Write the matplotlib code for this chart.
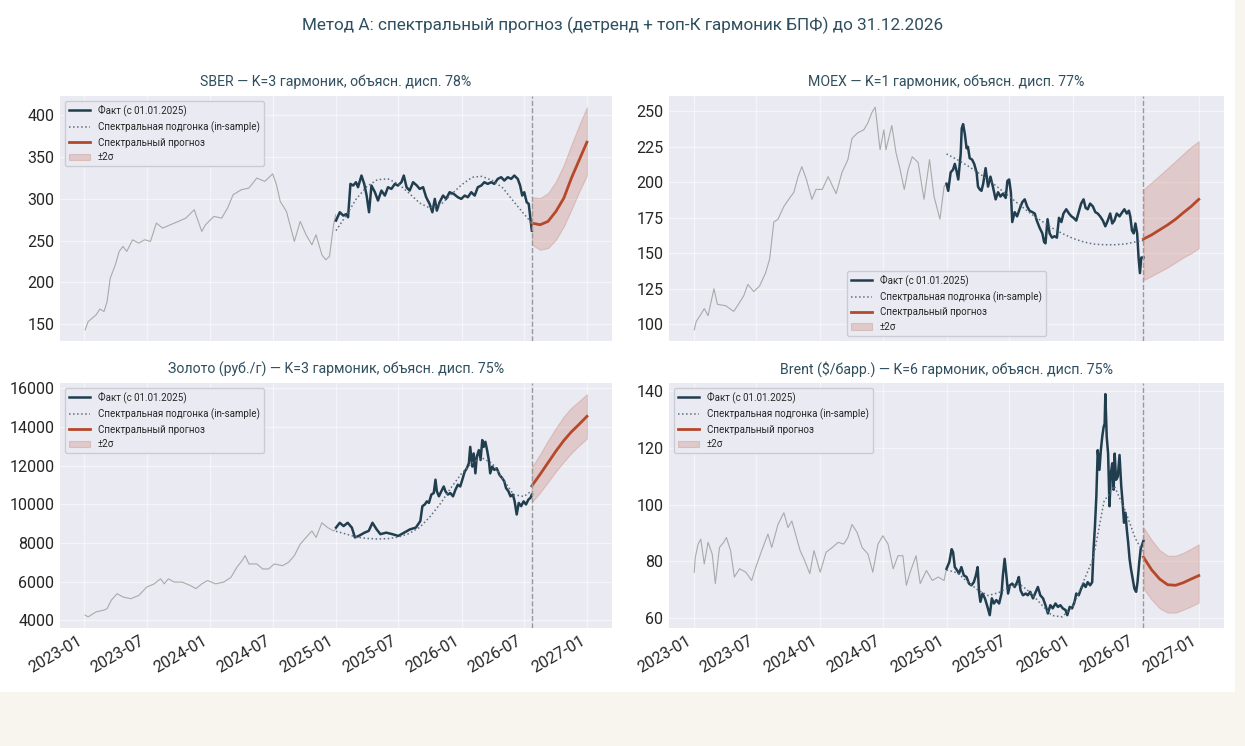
#!/usr/bin/env python3
"""
Spectral forecast chart: 2x2 panels (SBER, MOEX, gold, Brent)
history + fact since 2025 + in-sample spectral fit + forecast with ±2σ band
"""

import pandas as pd
import matplotlib
matplotlib.use("Agg")
import matplotlib.pyplot as plt
import matplotlib.dates as mdates
from matplotlib.patches import Rectangle

plt.rcParams['font.family'] = ['Roboto', 'DejaVu Sans']

# Fact / fit / forecast points are given as days since this origin
ORIGIN = '2023-01-01'
CUTOFF_DAY = 1300  # last fact day (24.07.2026)

# ---------------- SBER ----------------
sber_hist_dates = ['2023-01-03', '2023-01-12', '2023-02-04', '2023-02-15', '2023-02-27', '2023-03-08',
                   '2023-03-17', '2023-04-01', '2023-04-12', '2023-04-23', '2023-05-04', '2023-05-21',
                   '2023-06-08', '2023-06-25', '2023-07-12', '2023-07-29', '2023-08-16', '2023-09-08',
                   '2023-10-01', '2023-10-23', '2023-11-16', '2023-12-08', '2023-12-19', '2024-01-12',
                   '2024-02-04', '2024-02-21', '2024-03-08', '2024-04-01', '2024-04-23', '2024-05-16',
                   '2024-06-08', '2024-07-01', '2024-07-12', '2024-07-23', '2024-08-10', '2024-09-02',
                   '2024-09-19', '2024-10-06', '2024-10-23', '2024-11-04', '2024-11-21', '2024-12-02',
                   '2024-12-13', '2024-12-25', '2024-12-31']
sber_hist = [143, 153, 161, 168, 165, 177, 205, 221, 237, 243, 237, 251, 247, 251, 249, 271, 265, 269,
             273, 277, 287, 261, 269, 279, 277, 289, 305, 311, 313, 325, 321, 330, 317, 297, 285, 249,
             273, 257, 245, 257, 233, 227, 231, 269, 281]

sber_fact_day = [731, 742, 752, 762, 766, 773, 781, 789, 795, 805, 813, 820, 827, 834, 844, 853, 863,
                 873, 882, 892, 902, 911, 921, 928, 936, 945, 955, 966, 974, 984, 993, 1003, 1011,
                 1018, 1024, 1032, 1042, 1051, 1061, 1073, 1085, 1095, 1105, 1114, 1124, 1134, 1143,
                 1153, 1162, 1172, 1182, 1191, 1201, 1211, 1220, 1230, 1240, 1249, 1259, 1266, 1272,
                 1278, 1285, 1291, 1296, 1300]
sber_fact = [274, 284, 280, 282, 278, 318, 316, 320, 314, 328, 318, 304, 284, 316, 308, 298, 310, 304,
             314, 312, 318, 316, 320, 328, 314, 310, 320, 316, 312, 314, 302, 294, 284, 300, 286, 296,
             304, 300, 308, 306, 302, 300, 304, 302, 308, 304, 314, 316, 320, 318, 320, 318, 324, 326,
             322, 326, 324, 328, 324, 316, 304, 308, 296, 294, 276, 262]

# ---------------- MOEX ----------------
moex_hist_dates = ['2023-01-03', '2023-01-09', '2023-01-20', '2023-02-01', '2023-02-12', '2023-03-01',
                   '2023-03-11', '2023-04-04', '2023-04-27', '2023-05-08', '2023-05-26', '2023-06-07',
                   '2023-06-24', '2023-07-11', '2023-07-28', '2023-08-09', '2023-08-21', '2023-09-02',
                   '2023-09-19', '2023-10-06', '2023-10-18', '2023-10-30', '2023-11-10', '2023-11-22',
                   '2023-12-09', '2023-12-21', '2024-01-08', '2024-01-25', '2024-02-17', '2024-03-05',
                   '2024-03-22', '2024-04-03', '2024-04-20', '2024-05-07', '2024-05-19', '2024-05-30',
                   '2024-06-09', '2024-06-23', '2024-07-04', '2024-07-10', '2024-07-27', '2024-08-08',
                   '2024-08-20', '2024-09-01', '2024-09-12', '2024-09-24', '2024-10-11', '2024-10-28',
                   '2024-11-13', '2024-11-26', '2024-12-13', '2024-12-25', '2024-12-31']
moex_hist = [96, 102, 106, 111, 106, 125, 114, 113, 109, 113, 120, 128, 123, 127, 136, 146, 172, 174,
             183, 189, 193, 204, 211, 203, 188, 195, 195, 204, 192, 207, 216, 231, 235, 237, 242, 249,
             253, 223, 237, 223, 240, 221, 209, 195, 209, 218, 214, 188, 216, 190, 174, 197, 199]

moex_fact_day = [731, 736, 743, 750, 755, 760, 765, 772, 775, 779, 784, 789, 793, 798, 805, 811, 818,
                 822, 827, 832, 837, 844, 851, 858, 865, 873, 880, 887, 894, 902, 907, 912, 917, 921,
                 928, 935, 942, 950, 957, 964, 971, 979, 986, 992, 1000, 1008, 1013, 1017, 1023, 1029,
                 1036, 1043, 1050, 1056, 1063, 1069, 1077, 1085, 1092, 1098, 1106, 1113, 1120, 1127,
                 1133, 1139, 1146, 1154, 1161, 1168, 1175, 1183, 1190, 1197, 1204, 1210, 1216, 1223,
                 1231, 1239, 1245, 1252, 1258, 1262, 1267, 1272, 1277, 1282, 1286, 1290, 1294, 1300]
moex_fact = [199, 194, 207, 209, 213, 208, 202, 220, 238, 241, 234, 224, 225, 217, 216, 213, 207, 197,
             195, 194, 199, 210, 197, 204, 197, 188, 193, 190, 192, 189, 201, 202, 193, 172, 179, 176,
             181, 186, 188, 183, 180, 179, 178, 173, 168, 164, 158, 157, 174, 164, 161, 162, 161, 175,
             172, 178, 181, 178, 176, 175, 173, 179, 185, 188, 182, 181, 185, 183, 179, 178, 176, 173,
             169, 173, 178, 171, 173, 178, 176, 179, 181, 178, 180, 176, 166, 164, 171, 164, 147, 136,
             147, 147]

# ---------------- Gold ----------------
gold_hist_dates = ['2023-01-03', '2023-01-12', '2023-02-04', '2023-02-27', '2023-03-08', '2023-03-20',
                   '2023-04-06', '2023-04-23', '2023-05-16', '2023-06-08', '2023-07-01', '2023-07-23',
                   '2023-08-10', '2023-08-21', '2023-09-02', '2023-09-19', '2023-10-12', '2023-11-04',
                   '2023-11-21', '2023-12-08', '2023-12-25', '2024-01-17', '2024-02-10', '2024-03-02',
                   '2024-03-19', '2024-04-03', '2024-04-12', '2024-04-23', '2024-05-16', '2024-06-02',
                   '2024-06-19', '2024-07-06', '2024-07-29', '2024-08-16', '2024-09-02', '2024-09-19',
                   '2024-10-06', '2024-10-23', '2024-11-04', '2024-11-21', '2024-12-08', '2024-12-25',
                   '2024-12-31']
gold_hist = [4260, 4170, 4430, 4520, 4600, 5030, 5370, 5200, 5110, 5280, 5710, 5880, 6140, 5880, 6140,
             5970, 5970, 5800, 5630, 5880, 6050, 5880, 5970, 6220, 6740, 7080, 7340, 6910, 6910, 6650,
             6650, 6910, 6820, 6990, 7340, 7930, 8280, 8620, 8280, 9040, 8790, 8620, 8700]

gold_fact_day = [731, 742, 753, 765, 777, 786, 797, 814, 826, 837, 849, 860, 877, 895, 912, 929, 946,
                 963, 976, 982, 989, 995, 1001, 1008, 1015, 1020, 1024, 1030, 1037, 1044, 1049, 1056,
                 1063, 1071, 1078, 1085, 1092, 1098, 1105, 1111, 1117, 1121, 1127, 1131, 1136, 1140,
                 1146, 1151, 1156, 1160, 1165, 1170, 1175, 1179, 1185, 1191, 1198, 1206, 1214, 1220,
                 1225, 1232, 1238, 1245, 1250, 1256, 1262, 1269, 1276, 1283, 1290, 1296, 1300]
gold_fact = [8790, 9040, 8870, 9040, 8790, 8280, 8360, 8530, 8620, 9040, 8700, 8450, 8530, 8450, 8360,
             8530, 8700, 8790, 9130, 9900, 9990, 10150, 10070, 10500, 10580, 11270, 10670, 10410,
             10670, 10920, 10670, 10500, 10580, 10410, 10750, 11010, 10920, 11270, 11690, 11860,
             12120, 12970, 11950, 12630, 11600, 12460, 12800, 12290, 13320, 12970, 13230, 12800,
             12290, 11600, 11950, 11780, 11860, 11520, 11350, 11180, 10840, 10670, 10410, 10500,
             10150, 9470, 10070, 9900, 10150, 9990, 10240, 10330, 10500]

# ---------------- Brent ----------------
brent_hist_dates = ['2023-01-03', '2023-01-06', '2023-01-14', '2023-01-22', '2023-02-01', '2023-02-12',
                    '2023-02-24', '2023-03-05', '2023-03-17', '2023-03-29', '2023-04-06', '2023-04-18',
                    '2023-04-29', '2023-05-14', '2023-06-01', '2023-06-18', '2023-06-30', '2023-07-17',
                    '2023-08-04', '2023-08-15', '2023-09-02', '2023-09-19', '2023-10-01', '2023-10-12',
                    '2023-10-24', '2023-11-05', '2023-11-16', '2023-12-03', '2023-12-15', '2024-01-02',
                    '2024-01-19', '2024-02-06', '2024-02-23', '2024-03-10', '2024-03-22', '2024-04-03',
                    '2024-04-18', '2024-05-02', '2024-05-19', '2024-06-02', '2024-06-17', '2024-07-01',
                    '2024-07-16', '2024-07-31', '2024-08-14', '2024-08-28', '2024-09-07', '2024-09-18',
                    '2024-10-05', '2024-10-17', '2024-11-04', '2024-11-21', '2024-12-08', '2024-12-25',
                    '2024-12-31']
brent_hist = [76.2, 81.4, 86.0, 87.8, 79.1, 86.7, 82.6, 72.2, 84.9, 86.7, 88.4, 83.8, 74.5, 77.4, 76.2,
              73.3, 78.0, 83.8, 89.6, 84.9, 93.0, 97.1, 91.9, 94.2, 89.0, 83.8, 80.9, 75.7, 83.8, 76.2,
              83.2, 84.9, 86.7, 86.1, 88.4, 93.0, 90.1, 84.9, 82.6, 76.2, 86.1, 89.0, 86.1, 77.4, 82.0,
              82.0, 71.6, 76.2, 82.0, 72.2, 76.8, 73.3, 74.5, 73.3, 76.8]

brent_fact_day = [731, 739, 746, 750, 755, 762, 767, 774, 781, 789, 796, 803, 810, 816, 821, 825, 829,
                  835, 842, 848, 856, 862, 868, 875, 883, 890, 894, 899, 904, 909, 914, 921, 928, 935,
                  940, 945, 952, 960, 966, 973, 981, 989, 995, 1002, 1010, 1017, 1024, 1031, 1038,
                  1046, 1053, 1060, 1067, 1075, 1080, 1087, 1094, 1101, 1106, 1113, 1120, 1127, 1133,
                  1139, 1146, 1152, 1156, 1160, 1164, 1168, 1173, 1177, 1181, 1185, 1188, 1190, 1194,
                  1198, 1202, 1206, 1210, 1214, 1217, 1221, 1226, 1231, 1236, 1240, 1244, 1248, 1252,
                  1256, 1260, 1264, 1269, 1274, 1279, 1283, 1288, 1292, 1300]
brent_fact = [77.4, 79.7, 84.3, 83.2, 78.0, 76.8, 75.7, 78.0, 75.1, 74.5, 72.2, 71.6, 72.7, 75.1, 78.0,
              69.3, 65.8, 68.7, 67.0, 64.6, 61.1, 67.0, 65.2, 66.4, 65.2, 68.7, 75.1, 80.9, 75.1, 68.7,
              71.6, 72.2, 71.0, 72.7, 74.5, 69.8, 68.1, 68.7, 68.1, 69.3, 67.0, 69.3, 71.0, 68.1, 67.0,
              64.6, 61.7, 64.6, 63.5, 65.2, 64.0, 64.6, 63.5, 62.9, 61.1, 64.0, 63.5, 65.8, 68.7, 68.1,
              70.4, 72.2, 71.0, 72.7, 71.6, 72.7, 84.3, 92.4, 102.9, 119.1, 112.2, 119.1, 123.8, 127.2,
              128.4, 138.8, 123.8, 117.9, 99.4, 111.0, 114.5, 105.2, 117.9, 108.7, 109.8, 117.4, 106.4,
              100.6, 93.6, 97.1, 91.3, 86.6, 80.9, 77.4, 73.9, 70.4, 69.3, 72.7, 79.7, 84.3, 87.2]

# ---------------- in-sample spectral fits (monthly, days since origin) ----------------
fit_day = [731, 762, 790, 821, 851, 882, 912, 943, 974, 1004, 1035, 1065, 1096, 1127, 1155, 1186,
           1216, 1247, 1277, 1300]
sber_fit = [262, 281, 300, 315, 323, 324, 318, 307, 295, 289, 293, 305, 317, 326, 327, 322, 313, 297,
            282, 271]
moex_fit = [220, 216, 212, 207, 202, 196, 190, 184, 178, 173, 168, 164, 160.5, 158, 156.5, 156, 156,
            156.5, 158, 159]
gold_fit = [8600, 8450, 8300, 8230, 8200, 8220, 8300, 8480, 8800, 9350, 10050, 10850, 11600, 12150,
            12400, 12100, 11300, 10500, 10400, 10700]
brent_fit = [77, 76, 73, 70, 68, 69, 71, 72, 69, 65, 61, 60.5, 64, 73, 81, 101, 106.5, 98, 88, 83]

# ---------------- forecasts to 31.12.2026 ----------------
fc_day = [1300, 1324, 1347, 1370, 1393, 1415, 1438, 1460]
sber_fc = [271, 269, 273, 285, 301, 325, 347, 368]
sber_lo = [245, 239, 241, 251, 267, 287, 309, 328]
sber_hi = [302, 301, 307, 321, 341, 365, 389, 410]
moex_fc = [160, 163, 166.5, 170, 174, 178.5, 183, 188]
moex_lo = [131, 134, 137, 140, 143.5, 147, 150, 153.5]
moex_hi = [195, 200, 205, 210, 215, 220, 225, 229]
gold_fc = [10950, 11550, 12150, 12750, 13300, 13750, 14150, 14550]
gold_lo = [10100, 10600, 11150, 11700, 12200, 12650, 13050, 13400]
gold_hi = [11900, 12600, 13300, 13950, 14550, 15000, 15350, 15700]
brent_fc = [81.5, 77.0, 73.8, 71.8, 71.6, 72.5, 73.8, 75.0]
brent_lo = [70.5, 66.5, 63.5, 62.0, 62.0, 63.0, 64.2, 65.5]
brent_hi = [92.0, 87.5, 84.0, 82.0, 82.0, 83.0, 84.5, 86.0]

TITLES = [
    'SBER — K=3 гармоник, объясн. дисп. 78%',
    'MOEX — K=1 гармоник, объясн. дисп. 77%',
    'Золото (руб./г) — K=3 гармоник, объясн. дисп. 75%',
    'Brent ($/барр.) — K=6 гармоник, объясн. дисп. 75%',
]
SUPTITLE = 'Метод А: спектральный прогноз (детренд + топ-К гармоник БПФ) до 31.12.2026'

# Colors
C_FACT = '#203e4e'
C_HIST = '#aaaaaa'
C_FIT = '#5d6f80'
C_FC = '#b5482a'
C_TITLE = '#2f4f5f'
AX_BG = '#eaeaf2'


def days_to_dt(days):
    """Day offsets -> timestamps"""
    return pd.to_datetime(ORIGIN) + pd.to_timedelta(days, unit='D')


def draw_panel(ax, title, hd, hv, fd, fv, fitv, fcv, lov, hiv, legend_loc):
    """Draw one asset panel"""
    ax.plot(pd.to_datetime(hd), hv, color=C_HIST, lw=0.8)
    ax.plot(days_to_dt(fd), fv, color=C_FACT, lw=1.8, label='Факт (с 01.01.2025)')
    ax.plot(days_to_dt(fit_day), fitv, color=C_FIT, lw=1.1, ls=':',
            label='Спектральная подгонка (in-sample)')
    fcd = days_to_dt(fc_day)
    ax.plot(fcd, fcv, color=C_FC, lw=2, label='Спектральный прогноз')
    ax.fill_between(fcd, lov, hiv, color=C_FC, alpha=0.2, lw=0.8, label='±2σ')
    ax.axvline(days_to_dt(CUTOFF_DAY), color='#999999', ls='--', lw=1)

    ax.set_facecolor(AX_BG)
    ax.grid(True, color='white', lw=0.9, alpha=0.55)
    ax.set_axisbelow(True)
    for s in ax.spines.values():
        s.set_visible(False)
    ax.tick_params(length=0, labelsize=11.5, colors='#262626', pad=4)
    ax.set_title(title, fontsize=10.2, color=C_TITLE, pad=7)
    leg = ax.legend(loc=legend_loc, fontsize=7, frameon=True, facecolor=AX_BG,
                    edgecolor='#c8c8d0', framealpha=0.9, handlelength=2.2)
    for t in leg.get_texts():
        t.set_color('#262626')


def main():
    fig = plt.figure(figsize=(12.45, 7.46), dpi=100)
    fig.patch.set_facecolor('#f8f5ef')
    # white card behind the plots, the rest of the canvas stays beige
    fig.patches.append(Rectangle((0, 54 / 746), 1235 / 1245, 692 / 746, transform=fig.transFigure,
                                 facecolor='white', edgecolor='none', zorder=-10))

    w1, w2, h = 552 / 1245, 555 / 1245, 245 / 746
    ax1 = fig.add_axes([60 / 1245, 405 / 746, w1, h])
    ax2 = fig.add_axes([669 / 1245, 405 / 746, w2, h], sharex=ax1)
    ax3 = fig.add_axes([60 / 1245, 118 / 746, w1, h], sharex=ax1)
    ax4 = fig.add_axes([669 / 1245, 118 / 746, w2, h], sharex=ax1)

    draw_panel(ax1, TITLES[0], sber_hist_dates, sber_hist, sber_fact_day, sber_fact,
               sber_fit, sber_fc, sber_lo, sber_hi, 'upper left')
    draw_panel(ax2, TITLES[1], moex_hist_dates, moex_hist, moex_fact_day, moex_fact,
               moex_fit, moex_fc, moex_lo, moex_hi, 'lower center')
    draw_panel(ax3, TITLES[2], gold_hist_dates, gold_hist, gold_fact_day, gold_fact,
               gold_fit, gold_fc, gold_lo, gold_hi, 'upper left')
    draw_panel(ax4, TITLES[3], brent_hist_dates, brent_hist, brent_fact_day, brent_fact,
               brent_fit, brent_fc, brent_lo, brent_hi, 'upper left')

    ax1.xaxis.set_major_locator(mdates.MonthLocator(bymonth=[1, 7]))
    ax1.xaxis.set_major_formatter(mdates.DateFormatter('%Y-%m'))
    for ax in (ax1, ax2):
        ax.tick_params(labelbottom=False)
    for ax in (ax3, ax4):
        for lbl in ax.get_xticklabels():
            lbl.set_rotation(30)
            lbl.set_ha('right')

    fig.suptitle(SUPTITLE, fontsize=12.3, color=C_TITLE, y=0.977)
    fig.savefig('out.png', dpi=100, facecolor=fig.get_facecolor())


if __name__ == "__main__":
    main()
